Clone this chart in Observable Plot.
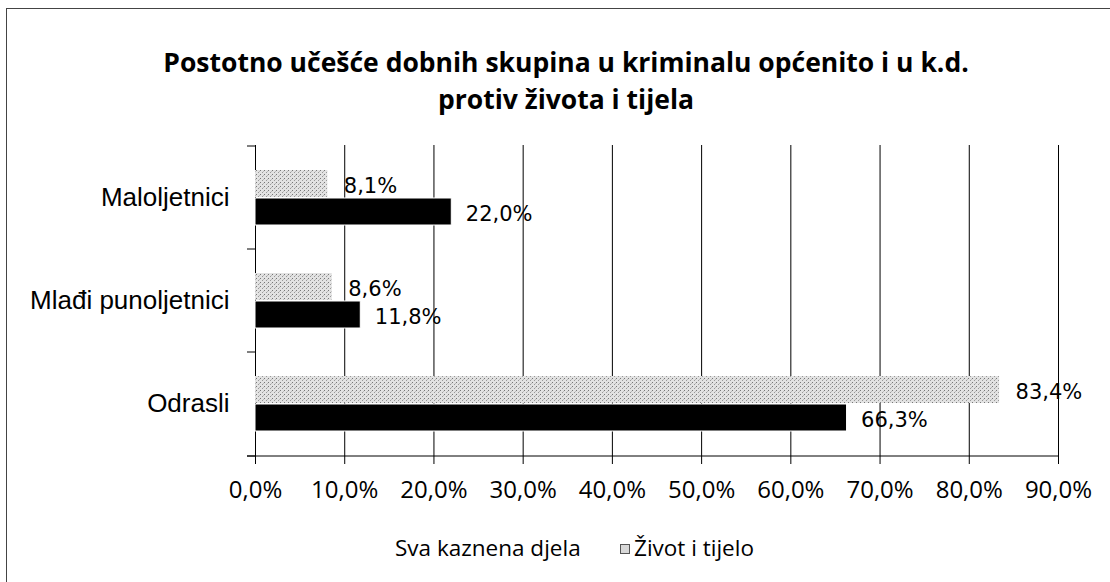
<!DOCTYPE html>
<html><head><meta charset="utf-8">
<script src="https://cdn.jsdelivr.net/npm/d3@7"></script>
<script src="https://cdn.jsdelivr.net/npm/@observablehq/plot@0.6"></script>
<style>
body{margin:0;background:#fff;width:1110px;height:582px;overflow:hidden;position:relative;font-family:"Open Sans", sans-serif;}
#frame{position:absolute;left:6px;top:8px;width:1120px;height:600px;border:1px solid #444;box-sizing:border-box;}
#title{position:absolute;top:44px;left:11px;width:1110px;text-align:center;font-weight:bold;font-size:26.5px;line-height:37px;color:#000;}
#chart{position:absolute;top:130px;left:0;}
#legend{position:absolute;top:532px;left:0;width:1110px;font-size:22.5px;line-height:32px;color:#000;}
#legend .i1{position:absolute;left:395px;top:0;}
#legend .i2{position:absolute;left:620px;top:0;}
#legend .sw{display:inline-block;width:8px;height:8px;border:1px solid #555;background:#d8d8d8;margin-right:4px;vertical-align:middle;position:relative;top:-1px;}
</style></head>
<body>
<div id="frame"></div>
<div id="title">Postotno učešće dobnih skupina u kriminalu općenito i u k.d.<br>protiv života i tijela</div>
<div id="chart"></div>
<div id="legend"><span class="i1">Sva kaznena djela</span><span class="i2"><span class="sw"></span>Život i tijelo</span></div>
<script>
const categories = ["Maloljetnici", "Mlađi punoljetnici", "Odrasli"];
const seriesNames = ["Sva kaznena djela", "Život i tijelo"];
const svaValues = [22.0, 11.8, 66.3];
const zivotValues = [8.1, 8.6, 83.4];
const xTicks = [0, 10, 20, 30, 40, 50, 60, 70, 80, 90];

const sva = categories.map((c, i) => ({category: c, value: svaValues[i]}));
const zivot = categories.map((c, i) => ({category: c, value: zivotValues[i]}));
const fmt = d => d.toFixed(1).replace(".", ",") + "%";

function boundaryTicks(index, scales, values, dimensions) {
  const {width, height, marginLeft, marginRight, marginBottom} = dimensions;
  const g = d3.create("svg:g").attr("stroke", "#000").attr("stroke-width", 1);
  const ys = categories.map(c => scales.y(c)).concat([height - marginBottom]);
  for (const yy of ys) {
    g.append("line").attr("x1", marginLeft - 8).attr("x2", marginLeft).attr("y1", yy).attr("y2", yy);
  }
  g.append("line").attr("x1", marginLeft - 8).attr("x2", width - marginRight)
    .attr("y1", height - marginBottom).attr("y2", height - marginBottom);
  return g.node();
}

const svg = Plot.plot({
  width: 1110,
  height: 400,
  marginLeft: 255,
  marginRight: 52,
  marginTop: 15,
  marginBottom: 74,
  style: {fontFamily: "'Open Sans', sans-serif", fontSize: "24px", color: "#000", background: "transparent"},
  x: {domain: [0, 90], label: null},
  y: {domain: categories, padding: 0, label: null},
  marks: [
    Plot.ruleX(xTicks, {stroke: "#000", strokeWidth: 1}),
    Plot.barX(zivot, {y: "category", x: "value", fill: "url(#speckle)", insetTop: 24, insetBottom: 52}),
    Plot.barX(sva, {y: "category", x: "value", fill: "#000", stroke: "#fff", strokeWidth: 1, insetTop: 52, insetBottom: 24}),
    Plot.text(zivot, {y: "category", x: "value", text: d => fmt(d.value), dx: 16, dy: -12, textAnchor: "start", fontFamily: "DejaVu Sans", fontSize: 21, fill: "#000"}),
    Plot.text(sva, {y: "category", x: "value", text: d => fmt(d.value), dx: 14, dy: 16, textAnchor: "start", fontFamily: "DejaVu Sans", fontSize: 21, fill: "#000"}),
    Plot.axisX({ticks: xTicks, tickFormat: fmt, tickSize: 8, tickPadding: 16, fontSize: 24, label: null}),
    Plot.axisY({tickSize: 0, tickPadding: 26, fontSize: 26, fontFamily: "'Liberation Sans', Arial, sans-serif", label: null}),
    boundaryTicks
  ]
});

const defs = d3.select(svg).insert("defs", ":first-child");
const pat = defs.append("pattern").attr("id", "speckle").attr("patternUnits", "userSpaceOnUse")
  .attr("width", 4).attr("height", 4);
pat.append("rect").attr("width", 4).attr("height", 4).attr("fill", "#e2e2e2");
pat.append("rect").attr("x", 0).attr("y", 0).attr("width", 1).attr("height", 1).attr("fill", "#777");
pat.append("rect").attr("x", 2).attr("y", 2).attr("width", 1).attr("height", 1).attr("fill", "#999");
pat.append("rect").attr("x", 3).attr("y", 1).attr("width", 1).attr("height", 1).attr("fill", "#bbb");

document.getElementById("chart").appendChild(svg);
</script>
</body></html>
